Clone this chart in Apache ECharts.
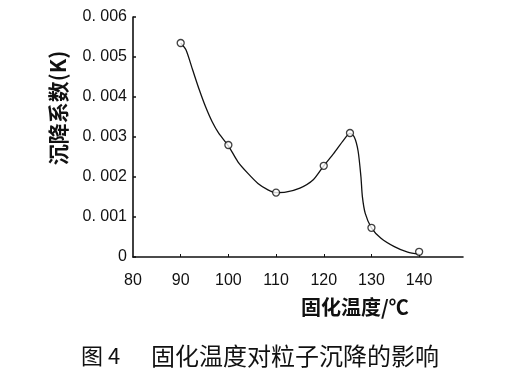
<!DOCTYPE html>
<html>
<head>
<meta charset="utf-8">
<script src="https://cdn.jsdelivr.net/npm/echarts@6/dist/echarts.min.js"></script>
<style>
html,body{margin:0;padding:0;background:#fff;}
#chart{width:511px;height:382px;}
</style>
</head>
<body>
<div id="chart"></div>
<script>
// measured data points (temperature °C, sedimentation coefficient K)
const pointX = [90, 100, 110, 120, 125.5, 130, 140];
const pointY = [0.00535, 0.00280, 0.00161, 0.00228, 0.00310, 0.00073, 0.00013];
// fitted curve as drawn in the figure
const curveX = [90, 91.1, 92.5, 93.9, 95.2, 96.6, 98.0, 100, 102.0, 104.1, 106.2, 108.3, 110, 112, 115, 117.8, 120, 122.1, 124.2, 125.5, 126.4, 127.2, 127.8, 128.1, 128.7, 130, 132, 134.8, 137.6, 140];
const curveY = [0.00535, 0.00518, 0.00468, 0.00418, 0.00376, 0.00338, 0.00309, 0.00278, 0.00238, 0.00209, 0.00184, 0.00168, 0.00161, 0.00162, 0.00172, 0.00193, 0.00228, 0.00259, 0.00293, 0.00309, 0.00300, 0.00265, 0.00200, 0.00151, 0.00109, 0.00073, 0.00047, 0.00026, 0.00012, 0.00007];
const xTickLabels = [80, 90, 100, 110, 120, 130, 140];
const xTicks = [90, 100, 110, 120, 130, 140];
const xTitle = '固化温度/℃';
const yTitle = '沉降系数(K)';
const captionLabel = '图 4';
const captionText = '固化温度对粒子沉降的影响';

const chart = echarts.init(document.getElementById('chart'));
const ink = '#111';
chart.setOption({
  animation: false,
  backgroundColor: '#fff',
  grid: {left: 133, right: 48, top: 17, bottom: 125},
  xAxis: {
    type: 'value', min: 80, max: 149.2,
    axisLine: {lineStyle: {color: ink, width: 1.6}},
    axisTick: {inside: true, length: 3, customValues: xTicks, lineStyle: {color: ink}},
    axisLabel: {customValues: xTickLabels, color: ink, fontSize: 16, margin: 16,
      fontFamily: 'Liberation Sans, Arial, sans-serif'},
    splitLine: {show: false}
  },
  yAxis: {
    type: 'value', min: 0, max: 0.006, interval: 0.001,
    axisLine: {show: true, lineStyle: {color: ink, width: 1.6}},
    axisTick: {show: true, inside: true, length: 3, lineStyle: {color: ink, width: 1.5}},
    axisLabel: {color: ink, fontSize: 16, margin: 6,
      fontFamily: 'Liberation Sans, Arial, sans-serif',
      formatter: v => v === 0 ? '0' : v.toFixed(3).replace('.', '. ')},
    splitLine: {show: false}
  },
  series: [
    {type: 'line', data: curveX.map((x, i) => [x, curveY[i]]), smooth: 0.25,
      showSymbol: false, lineStyle: {color: ink, width: 1.3}, z: 2},
    {type: 'scatter', data: pointX.map((x, i) => [x, pointY[i]]),
      symbol: 'circle', symbolSize: 7,
      itemStyle: {color: '#fff', borderColor: ink, borderWidth: 1.3}, z: 3}
  ],
  graphic: [
    {type: 'text', left: 301, top: 297,
      style: {text: xTitle, fontSize: 20, fontWeight: 'bold', fill: ink,
        fontFamily: 'Noto Sans CJK SC'}},
    {type: 'text', x: 58, y: 108, rotation: Math.PI / 2,
      style: {text: yTitle, fontSize: 21, fontWeight: 'bold', fill: ink,
        align: 'center', verticalAlign: 'middle', fontFamily: 'Noto Sans CJK SC'}},
    {type: 'text', left: 81, top: 345,
      style: {text: captionLabel, fontSize: 22, fill: ink,
        fontFamily: 'Noto Sans CJK SC'}},
    {type: 'text', left: 151, top: 344,
      style: {text: captionText, fontSize: 24, fill: ink,
        fontFamily: 'Noto Sans CJK SC'}}
  ]
});
</script>
</body>
</html>
